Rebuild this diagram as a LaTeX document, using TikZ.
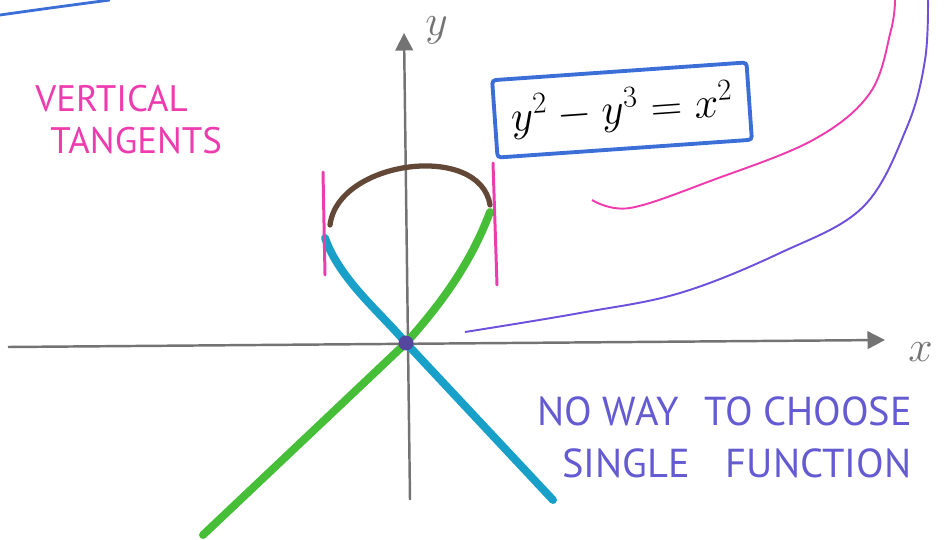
\documentclass[tikz,border=0pt]{standalone}
\usepackage{fontspec}
\newfontfamily\handfont{PT Sans}
\usepackage{tikz}
\usetikzlibrary{arrows.meta,positioning,calc}
\definecolor{axisgray}{RGB}{115,115,115}
\definecolor{boxblue}{RGB}{60,110,215}
\definecolor{tanpink}{RGB}{238,60,175}
\definecolor{notepurple}{RGB}{100,90,210}
\definecolor{curvepurple}{RGB}{110,80,220}
\definecolor{branchteal}{RGB}{25,160,200}
\definecolor{branchgreen}{RGB}{70,190,55}
\definecolor{archbrown}{RGB}{100,72,55}
\definecolor{dotpurple}{RGB}{85,70,160}
\tikzset{
  axisline/.style={draw=axisgray, line width=1.4pt, -{Triangle[length=3.5mm, width=3.5mm]}},
  axislabel/.style={text=axisgray, inner sep=0pt, font=\fontsize{28}{28}\selectfont},
  branch/.style={line width=4.5pt, line cap=round, line join=round},
  tangline/.style={draw=tanpink, line width=1.7pt, line cap=round},
  levelcurve/.style={line width=1.1pt},
  eqbox/.style={draw=boxblue, line width=2.2pt, rounded corners=2pt,
                minimum width=5.1cm, minimum height=1.55cm, inner sep=4pt,
                font=\fontsize{23}{25}\selectfont},
  handnote/.style={align=left, inner sep=0pt}
}
\begin{document}
\begin{tikzpicture}[x=0.02cm, y=-0.02cm]
\useasboundingbox (0,0) rectangle (952,540);
\coordinate (xstart) at (8,347);
\coordinate (xend) at (885,340);
\coordinate (ybottom) at (410,500);
\coordinate (ytop) at (404,33);
\draw[axisline] (xstart) -- (xend);
\draw[axisline] (ybottom) -- (ytop);
\node[axislabel, anchor=west] (ylab) at (425,30) {$y$};
\node[axislabel, anchor=west] (xlab) at (908,352) {$x$};
\draw[boxblue, line width=1.6pt] (0,15) .. controls (50,8) .. (110,0);
\draw[levelcurve, tanpink] plot[smooth, tension=0.6] coordinates {(592,200) (630,208) (713,180) (813,140) (870,93) (891,30) (895,0)};
\draw[levelcurve, curvepurple] plot[smooth, tension=0.6] coordinates {(465,332) (580,313) (680,293) (780,253) (863,207) (907,127) (925,60) (928,0)};
\node[circle, inner sep=0pt, minimum size=0.3cm] (origin) at (406,343) {};
\draw[branch, branchgreen] (490,212) .. controls (470,265) and (440,305) .. (origin.center) -- (203,535);
\draw[branch, branchteal] (325,238) .. controls (340,280) and (380,312) .. (origin.center) -- (553,500);
\draw[archbrown, line width=3pt, line cap=round] (330,225) .. controls (338,160) and (480,142) .. (490,205);
\coordinate (lefttop) at (323,172);
\coordinate (leftbot) at (325,275);
\coordinate (righttop) at (493,163);
\coordinate (rightbot) at (497,285);
\draw[tangline] (lefttop) -- (leftbot);
\draw[tangline] (righttop) -- (rightbot);
\fill[dotpurple] (origin) circle (0.15cm);
\node[eqbox, rotate=4] (eqn) at (622,110) {$y^2-y^3=x^2$};
\node[handnote, text=tanpink, anchor=north west, font=\handfont\fontsize{21}{24}\selectfont] (tangnote) at (35,85) {VERTICAL\\\hspace*{0.3cm}TANGENTS};
\node[handnote, text=notepurple, anchor=north west, font=\handfont\fontsize{23}{30}\selectfont] (choicenote) at (537,396) {NO WAY\hspace{0.3cm} TO CHOOSE\\\hspace*{0.5cm}SINGLE\hspace{0.5cm} FUNCTION};
\end{tikzpicture}
\end{document}
